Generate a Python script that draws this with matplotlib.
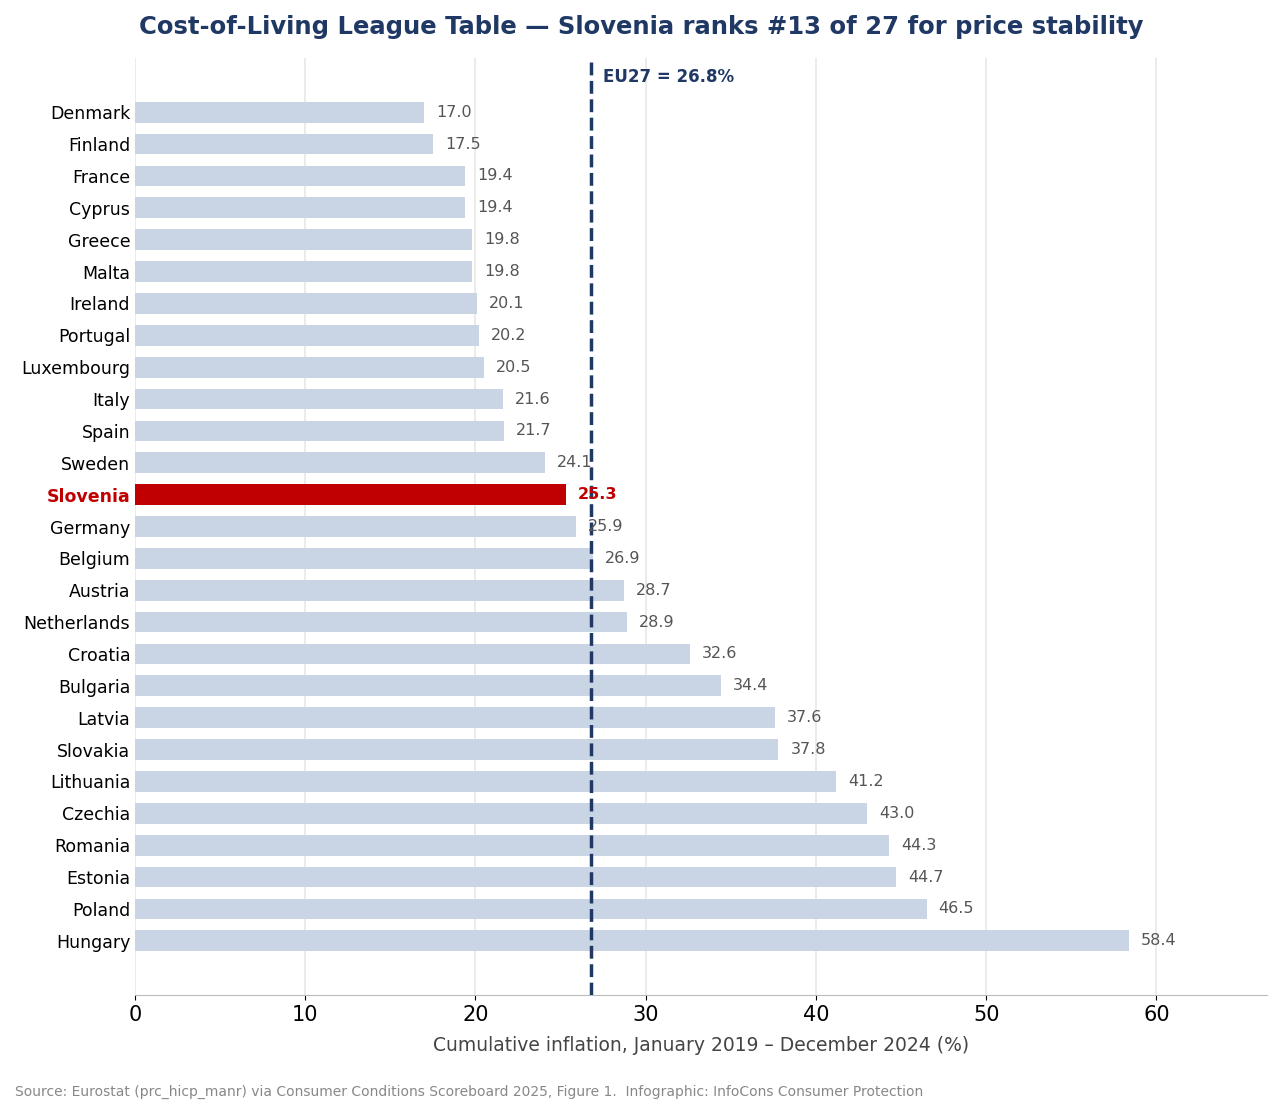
import matplotlib
matplotlib.use("Agg")
import matplotlib.pyplot as plt

# Cumulative inflation Jan 2019 - Dec 2024 (%)
countries = ["Denmark", "Finland", "France", "Cyprus", "Greece", "Malta", "Ireland",
             "Portugal", "Luxembourg", "Italy", "Spain", "Sweden", "Slovenia", "Germany",
             "Belgium", "Austria", "Netherlands", "Croatia", "Bulgaria", "Latvia",
             "Slovakia", "Lithuania", "Czechia", "Romania", "Estonia", "Poland", "Hungary"]
values = [17.0, 17.5, 19.4, 19.4, 19.8, 19.8, 20.1, 20.2, 20.5, 21.6, 21.7, 24.1, 25.3,
          25.9, 26.9, 28.7, 28.9, 32.6, 34.4, 37.6, 37.8, 41.2, 43.0, 44.3, 44.7, 46.5, 58.4]
eu27 = 26.8
highlight = "Slovenia"

navy = "#1f3864"
red = "#c00000"
bar_col = "#c9d5e5"

fig = plt.figure(figsize=(12.82, 11.15), dpi=100)
ax = fig.add_axes([135/1282, 1 - 995/1115, (1267-135)/1282, (995-58)/1115])

ypos = list(range(len(countries)))
colors = [red if c == highlight else bar_col for c in countries]
ax.barh(ypos, values, height=0.65, color=colors, zorder=2)

for y, c, v in zip(ypos, countries, values):
    if c == highlight:
        ax.text(v + 0.7, y, f"{v:.1f}", va="center", ha="left", fontsize=11.5,
                color=red, fontweight="bold", zorder=4)
    else:
        ax.text(v + 0.7, y, f"{v:.1f}", va="center", ha="left", fontsize=11.5,
                color="#555555", zorder=4)

ax.axvline(eu27, color=navy, linestyle="--", linewidth=2.5, zorder=3)
ax.text(eu27 + 0.7, -1.1, f"EU27 = {eu27}%", color=navy, fontsize=12,
        fontweight="bold", va="center", ha="left")

ax.set_yticks(ypos)
ax.set_yticklabels(countries, fontsize=12.5)
for lab in ax.get_yticklabels():
    if lab.get_text() == highlight:
        lab.set_color(red)
        lab.set_fontweight("bold")
ax.set_ylim(27.7, -1.7)
ax.set_xlim(0, 66.5)
ax.set_xticks(range(0, 70, 10))
ax.tick_params(axis="x", labelsize=15)
ax.tick_params(axis="y", length=0)
ax.grid(axis="x", color="#e8e8e8", linewidth=1.2, zorder=0)
ax.set_axisbelow(True)
for s in ["top", "right", "left"]:
    ax.spines[s].set_visible(False)
ax.spines["bottom"].set_color("#bbbbbb")

ax.set_xlabel("Cumulative inflation, January 2019 \u2013 December 2024 (%)",
              fontsize=13.5, color="#444444", labelpad=8)
fig.text(0.5, 0.976, "Cost-of-Living League Table \u2014 Slovenia ranks #13 of 27 for price stability",
         ha="center", va="center", fontsize=17.5, fontweight="bold", color=navy)
fig.text(15/1282, 1 - 1092/1115,
         "Source: Eurostat (prc_hicp_manr) via Consumer Conditions Scoreboard 2025, Figure 1.  Infographic: InfoCons Consumer Protection",
         ha="left", va="center", fontsize=10, color="#888888")

fig.savefig("out.png", dpi=100)
